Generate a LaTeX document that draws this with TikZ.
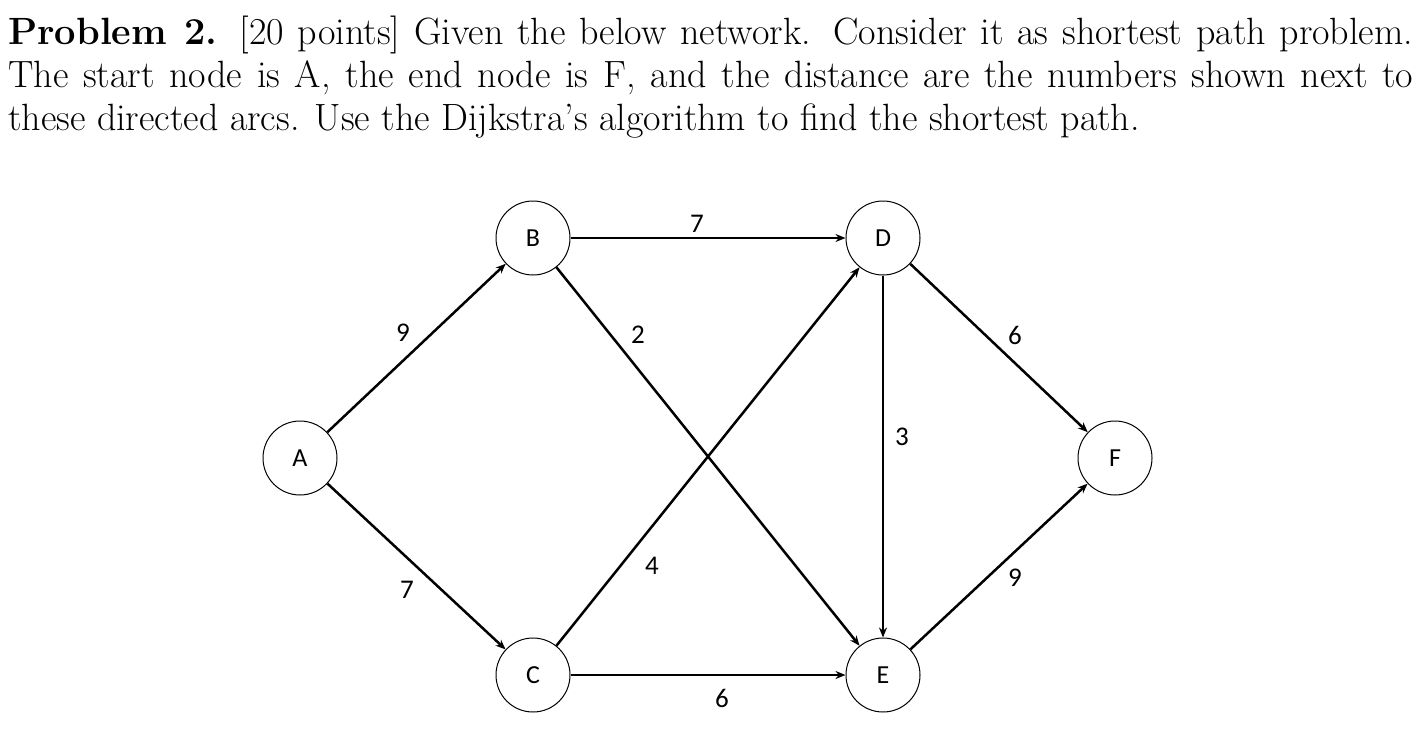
\documentclass[tikz,border=0pt]{standalone}
\usepackage{fontspec}
\newfontfamily\calib{Carlito}
\usetikzlibrary{arrows.meta}
\begin{document}
\begin{tikzpicture}[x=1pt,y=-1pt,
  vert/.style={circle,draw,line width=1pt,minimum size=74pt,inner sep=0pt,font=\calib\fontsize{26}{30}\selectfont},
  arc/.style={line width=2.5pt,-{Stealth[length=10pt,width=8pt]}},
  lbl/.style={font=\calib\fontsize{27}{30}\selectfont}]
\useasboundingbox (0,0) rectangle (1421,741);
\node[anchor=north west,text width=1405pt,align=justify,inner sep=0pt,font=\fontsize{38}{43}\selectfont] (txt) at (8,16)
{\textbf{Problem 2.} [20 points] Given the below network. Consider it as shortest path problem.\linebreak The start node is A, the end node is F, and the distance are the numbers shown next to\linebreak these directed arcs. Use the Dijkstra's algorithm to find the shortest path.};
\node[vert] (A) at (300,458) {A};
\node[vert] (B) at (533,238) {B};
\node[vert] (C) at (533,675) {C};
\node[vert] (D) at (883,238) {D};
\node[vert] (E) at (883,675) {E};
\node[vert] (F) at (1115,458) {F};
\draw[arc] (A) -- (B);
\draw[arc] (A) -- (C);
\draw[arc] (B) -- (D);
\draw[arc] (B) -- (E);
\draw[arc] (C) -- (D);
\draw[arc] (C) -- (E);
\draw[arc] (D) -- (E);
\draw[arc] (D) -- (F);
\draw[arc] (E) -- (F);
\node[lbl] (l1) at (697,224) {7};
\node[lbl] (l2) at (403,333) {9};
\node[lbl] (l3) at (638,335) {2};
\node[lbl] (l4) at (1015,335) {6};
\node[lbl] (l5) at (902,437) {3};
\node[lbl] (l6) at (652,566) {4};
\node[lbl] (l7) at (407,590) {7};
\node[lbl] (l8) at (1015,578) {9};
\node[lbl] (l9) at (722,698) {6};
\end{tikzpicture}
\end{document}
